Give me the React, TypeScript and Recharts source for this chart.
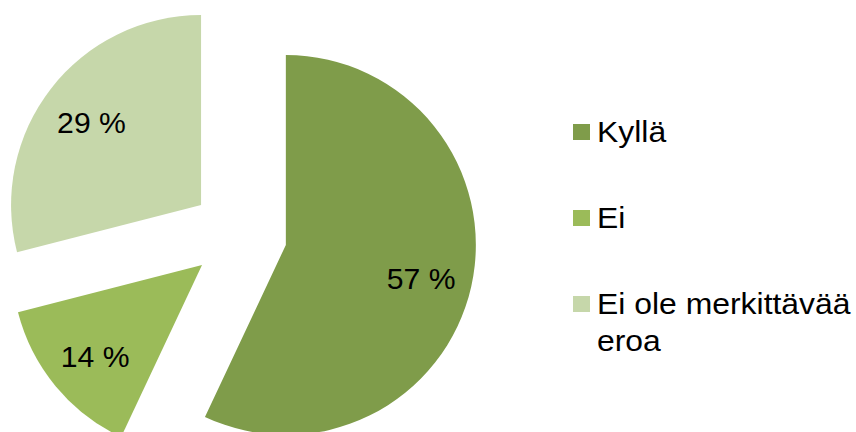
import { Cell, Legend, Pie, PieChart, Sector } from 'recharts'

const CATEGORIES = ['Kyllä', 'Ei', 'Ei ole merkittävää eroa']
const VALUES = [57, 14, 29]
const COLORS = ['#7f9c4a', '#9bbb59', '#c6d7aa']

const data = CATEGORIES.map((name, i) => ({ name, value: VALUES[i] }))

const RADIAN = Math.PI / 180
const EXPLODE = 48
const FONT = '"Liberation Sans", Arial, sans-serif'

// recharts polar convention: angle counter-clockwise from 3 o'clock
const polar = (r: number, angle: number) => ({
  x: r * Math.cos(-angle * RADIAN),
  y: r * Math.sin(-angle * RADIAN),
})

// draws the exploded slice + its percent label (the pie's own sectors are left transparent)
function ExplodedSlice(props: any) {
  const { cx, cy, outerRadius, startAngle, endAngle, midAngle, index } = props
  const off = polar(EXPLODE, midAngle)
  const x0 = cx + off.x
  const y0 = cy + off.y
  const lp = polar(outerRadius * 0.73, midAngle)
  return (
    <g>
      <Sector
        cx={x0}
        cy={y0}
        innerRadius={0}
        outerRadius={outerRadius}
        startAngle={startAngle}
        endAngle={endAngle}
        fill={COLORS[index]}
        stroke="none"
      />
      <text
        transform={`translate(${x0 + lp.x},${y0 + lp.y + 3}) scale(1.04,1)`}
        textAnchor="middle"
        dominantBaseline="central"
        fill="#000"
        fontSize={29}
        fontFamily={FONT}
      >
        {`${VALUES[index]} %`}
      </text>
    </g>
  )
}

function LegendBox() {
  return (
    <div style={{ fontFamily: FONT, fontSize: 29, color: '#000' }}>
      {CATEGORIES.map((name, i) => (
        <div key={name} style={{ position: 'relative', marginBottom: 49 }}>
          <span
            style={{
              position: 'absolute',
              left: 0,
              top: 10,
              width: 17,
              height: 16,
              background: COLORS[i],
            }}
          />
          <div
            style={{
              marginLeft: 24,
              lineHeight: '37px',
              width: 280,
              whiteSpace: 'nowrap',
              transform: 'scaleX(1.1)',
              transformOrigin: 'left',
            }}
          >
            {name === 'Ei ole merkittävää eroa' ? (
              <>
                Ei ole merkittävää
                <br />
                eroa
              </>
            ) : (
              name
            )}
          </div>
        </div>
      ))}
    </div>
  )
}

export default function App() {
  return (
    <div style={{ position: 'fixed', left: 0, top: 0, width: 856, height: 432, background: '#fff', overflow: 'hidden' }}>
      <PieChart width={856} height={432} margin={{ top: 0, right: 0, bottom: 0, left: 0 }}>
        <Pie
          data={data}
          dataKey="value"
          nameKey="name"
          cx={239}
          cy={234.5}
          outerRadius={190}
          startAngle={90}
          endAngle={-270}
          stroke="none"
          label={ExplodedSlice}
          labelLine={false}
          isAnimationActive={false}
        >
          {data.map((d) => (
            <Cell key={d.name} fill="transparent" />
          ))}
        </Pie>
        <Legend
          content={() => <LegendBox />}
          wrapperStyle={{ position: 'absolute', left: 573, top: 114, width: 283, bottom: 'auto', right: 'auto' }}
        />
      </PieChart>
    </div>
  )
}
